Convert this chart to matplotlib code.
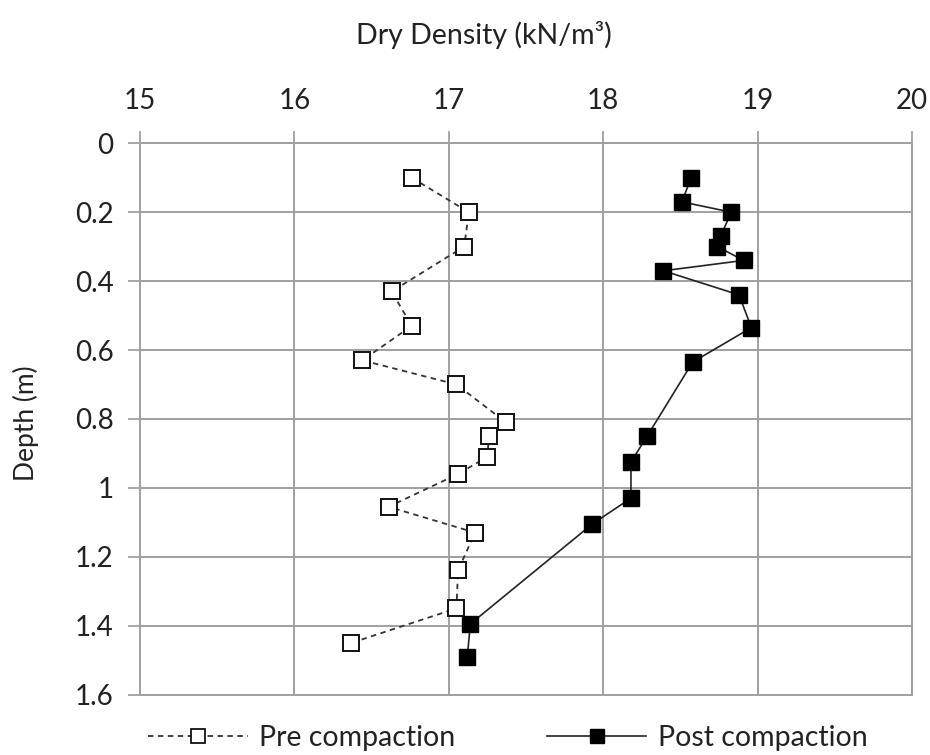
import matplotlib
matplotlib.use("Agg")
import matplotlib.pyplot as plt
from matplotlib.lines import Line2D

# ---------- data ----------
pre_density = [16.76, 17.13, 17.10, 16.63, 16.76, 16.44, 17.05, 17.37,
               17.26, 17.25, 17.06, 16.61, 17.17, 17.06, 17.05, 16.37]
pre_depth = [0.10, 0.20, 0.30, 0.43, 0.53, 0.63, 0.70, 0.81,
             0.85, 0.91, 0.96, 1.055, 1.13, 1.24, 1.35, 1.45]

post_density = [18.57, 18.51, 18.83, 18.76, 18.74, 18.91, 18.39, 18.88,
                18.96, 18.58, 18.285, 18.18, 18.18, 17.93, 17.14, 17.12]
post_depth = [0.10, 0.17, 0.20, 0.27, 0.30, 0.34, 0.37, 0.44,
              0.535, 0.635, 0.85, 0.925, 1.03, 1.105, 1.395, 1.49]

x_ticks = [15, 16, 17, 18, 19, 20]
y_ticks = [0, 0.2, 0.4, 0.6, 0.8, 1.0, 1.2, 1.4, 1.6]
y_ticklabels = ["0", "0.2", "0.4", "0.6", "0.8", "1", "1.2", "1.4", "1.6"]

plt.rcParams["font.family"] = ["Lato", "DejaVu Sans"]
GRID = "#a0a0a0"

fig = plt.figure(figsize=(9.3, 7.55), dpi=100)
ax = fig.add_axes([0.1505, 0.0801, 0.8301, 0.7301])

ax.plot(pre_density, pre_depth, color="#333333", lw=1.3, ls=(0, (3, 2.5)),
        marker="s", ms=11, mfc="white", mec="#111111", mew=1.4,
        label="Pre compaction", zorder=3)
ax.plot(post_density, post_depth, color="#222222", lw=1.2, ls="-",
        marker="s", ms=11.5, mfc="black", mec="black", mew=1,
        label="Post compaction", zorder=4)

ax.set_xlim(15, 20)
ax.set_ylim(1.6, 0)
ax.set_xticks(x_ticks)
ax.set_yticks(y_ticks)
ax.set_yticklabels(y_ticklabels)
ax.xaxis.tick_top()
ax.tick_params(axis="x", which="both", top=True, bottom=False, direction="out",
               length=9, width=1.3, color=GRID, labelsize=20, pad=12,
               labelcolor="#222222")
ax.tick_params(axis="y", direction="out", length=9, width=1.3, color=GRID,
               labelsize=20, pad=10, labelcolor="#222222")

ax.grid(True, color=GRID, lw=1.4)
ax.set_axisbelow(True)
for s in ax.spines.values():
    s.set_color(GRID)
    s.set_linewidth(1.4)

fig.text(484 / 930, 1 - 35 / 755, "Dry Density (kN/m\u00b3)", ha="center",
         va="center", fontsize=20.5, color="#222222")
fig.text(26 / 930, 1 - 423 / 755, "Depth (m)", ha="center", va="center",
         rotation=90, fontsize=19, color="#222222")

handles = [
    Line2D([], [], color="#333333", lw=1.3, ls=(0, (3, 2.5)), marker="s",
           ms=10, mfc="white", mec="#111111", mew=1.3),
    Line2D([], [], color="#222222", lw=1.2, marker="s", ms=10.5,
           mfc="black", mec="black"),
]
fig.legend(handles, ["Pre compaction", "Post compaction"], ncol=2,
           loc="center", bbox_to_anchor=(508 / 930, 1 - 738 / 755),
           frameon=False, fontsize=20.5, handlelength=3.5, handletextpad=0.4,
           columnspacing=3.2, labelcolor="#222222")

fig.savefig("out.png", dpi=100)
